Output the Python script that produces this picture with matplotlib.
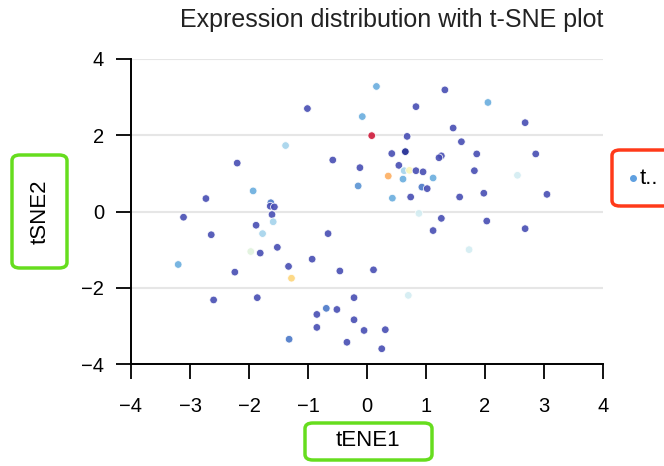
import numpy as np
import matplotlib
matplotlib.use('Agg')
import matplotlib.pyplot as plt
from matplotlib.colors import LinearSegmentedColormap
from matplotlib.patches import FancyBboxPatch

plt.rcParams['font.family'] = ['Liberation Sans', 'DejaVu Sans']

# t-SNE coordinates
tsne1 = [-1.01, -0.08, -1.38, -0.58, -0.12, -2.20, -0.15, -1.93, -2.73, -1.63,
         -1.64, -1.57, -1.61, -3.11, 0.08, 0.16, 1.32, 0.83, 2.05, 2.68,
         1.46, 0.68, 1.60, 0.42, 0.65, 1.26, 1.22, 1.86, 2.86, 0.54,
         0.63, 0.72, 0.83, 0.95, 0.36, 0.61, 1.12, 1.82, 2.55, 0.93,
         1.02, 0.43, 0.74, 1.57, 1.98, 3.05, 0.88, 1.26, 2.03, 1.12,
         2.68, 1.73, 0.11, 0.70, -0.05, 0.31, 0.25, -1.59, -1.88, -2.64,
         -1.77, -0.66, -1.97, -1.81, -1.52, -0.93, -3.20, -2.24, -1.33, -1.28,
         -0.46, -2.60, -1.86, -0.22, -0.69, -0.51, -0.85, -0.22, -0.85, -1.32,
         -0.34]
tsne2 = [2.70, 2.49, 1.73, 1.35, 1.15, 1.27, 0.67, 0.54, 0.34, 0.23,
         0.14, 0.12, -0.08, -0.15, 1.99, 3.28, 3.19, 2.75, 2.86, 2.33,
         2.19, 1.97, 1.83, 1.52, 1.57, 1.46, 1.41, 1.51, 1.51, 1.21,
         1.07, 1.08, 1.07, 1.04, 0.93, 0.85, 0.88, 1.07, 0.95, 0.64,
         0.60, 0.35, 0.38, 0.38, 0.48, 0.45, -0.05, -0.18, -0.25, -0.50,
         -0.45, -1.00, -1.53, -2.20, -3.12, -3.10, -3.60, -0.27, -0.36, -0.61,
         -0.58, -0.58, -1.05, -1.09, -0.94, -1.25, -1.39, -1.59, -1.44, -1.75,
         -1.56, -2.32, -2.26, -2.26, -2.54, -2.57, -2.70, -2.84, -3.04, -3.35,
         -3.43]
# relative expression level (0 = low, 1 = high)
expression = [0.1, 0.3, 0.4, 0.1, 0.1, 0.1, 0.25, 0.3, 0.1, 0.2,
              0.1, 0.1, 0.1, 0.1, 1.0, 0.3, 0.1, 0.1, 0.3, 0.1,
              0.1, 0.1, 0.1, 0.1, 0.0, 0.1, 0.1, 0.1, 0.1, 0.1,
              0.4, 0.6, 0.1, 0.1, 0.8, 0.3, 0.3, 0.1, 0.5, 0.2,
              0.1, 0.3, 0.1, 0.1, 0.1, 0.1, 0.5, 0.1, 0.1, 0.1,
              0.1, 0.5, 0.1, 0.5, 0.1, 0.1, 0.1, 0.4, 0.1, 0.1,
              0.4, 0.1, 0.55, 0.1, 0.1, 0.1, 0.3, 0.1, 0.1, 0.7,
              0.1, 0.1, 0.1, 0.1, 0.2, 0.1, 0.1, 0.1, 0.1, 0.2,
              0.1]

cmap = LinearSegmentedColormap.from_list('expr', [
    (0.0, '#1a2590'), (0.1, '#484eb4'), (0.2, '#4a78c8'), (0.3, '#6aaede'),
    (0.4, '#a4d3ec'), (0.5, '#d2edf3'), (0.55, '#e0f2dc'), (0.6, '#fbf6b6'),
    (0.7, '#fdd67a'), (0.8, '#fdae61'), (1.0, '#cf1a3a')])

fig = plt.figure(figsize=(6.64, 4.66), dpi=100)
ax = fig.add_axes([131 / 664, 1 - 364 / 466, 472 / 664, 305 / 466])

ax.scatter(tsne1, tsne2, c=expression, cmap=cmap, vmin=0, vmax=1,
           s=30, alpha=0.9, edgecolors='white', linewidths=0.6, zorder=3)

ax.set_xlim(-4, 4)
ax.set_ylim(-4, 4)
ax.set_xticks(np.arange(-4, 5, 1))
ax.set_yticks([-4, -2, 0, 2, 4])
ax.yaxis.grid(True, color='#e6e6e6', linewidth=1.5)
ax.set_axisbelow(True)
for side in ['top', 'right']:
    ax.spines[side].set_visible(False)
for side in ['left', 'bottom']:
    ax.spines[side].set_linewidth(1.4)
ax.tick_params(direction='out', length=10.5, width=1.3, labelsize=14.5)
ax.tick_params(axis='x', pad=13)
ax.tick_params(axis='y', pad=9)

fig.text(603 / 664, 1 - 20 / 466, 'Expression distribution with t-SNE plot',
         ha='right', va='center', fontsize=18, color='#222222')

# axis labels in green rounded boxes
fig.text(40 / 664, 1 - 212 / 466, 'tSNE2', rotation=90, ha='center',
         va='center', fontsize=16)
fig.text(368 / 664, 1 - 441 / 466, 'tENE1', ha='center', va='center',
         fontsize=16)
for x0, y0, w, h in [(12, 155, 55, 113), (305, 423, 127, 37)]:
    fig.add_artist(FancyBboxPatch((x0 / 664, 1 - (y0 + h) / 466), w / 664, h / 466,
                                  boxstyle='round,pad=0,rounding_size=0.012',
                                  transform=fig.transFigure, fill=False,
                                  edgecolor='#66dd1e', linewidth=2.5))

# clipped legend on the right
fig.add_artist(FancyBboxPatch((612 / 664, 1 - 206 / 466), 70 / 664, 56 / 466,
                              boxstyle='round,pad=0,rounding_size=0.012',
                              transform=fig.transFigure, fill=False,
                              edgecolor='#ff3a1a', linewidth=2.5))
fig.add_artist(plt.Line2D([633 / 664], [1 - 178 / 466], marker='o', markersize=4,
                          color='#5fa0e0', transform=fig.transFigure))
fig.text(640 / 664, 1 - 178 / 466, 't..', ha='left', va='center', fontsize=16)

fig.savefig('out.png', dpi=100)
